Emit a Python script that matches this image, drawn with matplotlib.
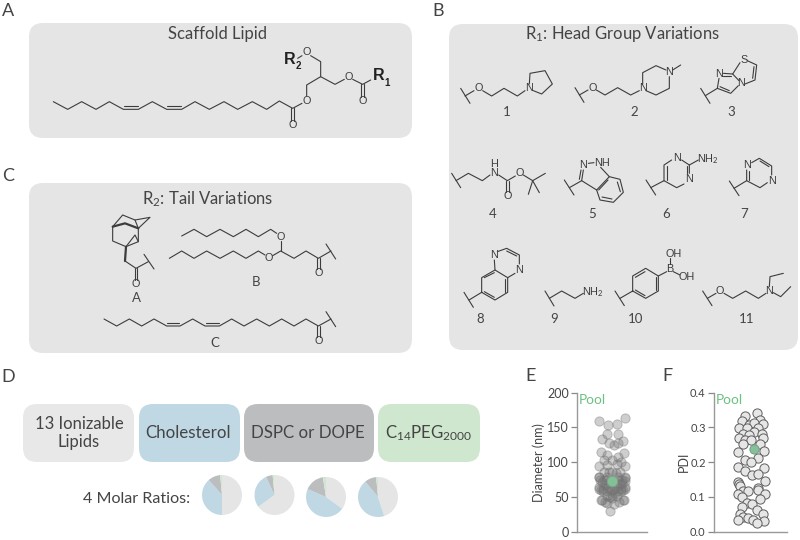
'''Lipid scaffold figure: structures, formulation boxes, molar ratio pies, DLS swarms.'''
import matplotlib
matplotlib.use('Agg')
import matplotlib.pyplot as plt
from matplotlib.patches import FancyBboxPatch

plt.rcParams['font.family'] = ['Lato', 'DejaVu Sans']
plt.rcParams['mathtext.fontset'] = 'custom'
plt.rcParams['mathtext.rm'] = 'Lato'
plt.rcParams['mathtext.default'] = 'rm'

W, H = 800, 540
TXT = '#444444'
BOND = '#3c3c3c'
PANEL = '#e5e5e5'
GREEN = '#6cc080'

# molar ratio pies: ionizable, cholesterol, helper, PEG
pie_ionizable = [50, 65, 35, 45]
pie_cholesterol = [38.5, 28, 46.5, 44]
pie_helper = [10, 5.5, 16, 9.5]
pie_peg = [1.5, 1.5, 2.5, 1.5]
pie_colors = [PANEL, '#bfd8e4', '#bcbdbf', '#cfe6cf']

# panel E
diameter_x = [13, -13, -4, 5, -5, 6, -10, 11, -3, 2, 6, -11, 12, -5, 6, -8, 0, 9, -13, 13, -5, 5, 0, -8, 8, 4, -3,
              -13, 13, -8, 10, -12, 13, -5, 6, -13, 13, -9, 9, -5, 6, 0, -2, 3, -11, 12, -7, 7, -10, 11, 2, -5, -2,
              -7, 8, -3, 4, -2, 2,
              -13, 13, -10, 10, -13, 13, -9, 9, -5, 5, 0, -6, 6, 0, -4, 4, -11, 11]
diameter_y = [164, 159, 153, 155, 141, 141, 134, 130, 128, 125, 127, 114, 113, 110, 108, 103, 103, 101, 94, 94, 96,
              97, 86, 86, 86, 84, 86, 79, 79, 74, 75, 75, 73, 79, 79, 62, 62, 61, 61, 58, 58, 53, 50, 55, 46, 46, 43,
              43, 45, 45, 40, 41, 30, 67, 69, 72, 70, 62, 62,
              78, 77, 72, 70, 64, 64, 59, 59, 52, 52, 48, 75, 75, 60, 65, 65, 60, 60]
diameter_pool = 73

# panel F
pdi_x = [7, -5, 10, -8, -1, 4, 13, -11, -3, 8, 4, -7, -1, 12, -11, 13, -5, 1, -7, 10, 14, -12, 8, -5, 1, -12, 14,
         -5, 2, 8, 15, -12, -11, -10, 8, -7, -2, 8, -12, 15, -8, 10, -3, 2, -8, 7, -10, 13, -7, -2, 3, -12, 14, 7]
pdi_y = [.343, .334, .321, .318, .307, .312, .309, .297, .297, .297, .288, .281, .278, .281, .269, .269, .264, .264,
         .251, .252, .233, .228, .213, .207, .201, .187, .182, .175, .163, .165, .147, .144, .137, .131, .125, .118,
         .118, .120, .108, .108, .099, .093, .082, .079, .072, .062, .051, .051, .043, .038, .034, .034, .032, .024]
pdi_pool_x = 4
pdi_pool = .239

# structures, traced as polylines (x, y in a 3x crop, with the crop origin)
ORIGIN_A = (0, 0)
SCAFFOLD = [
    [(160, 305), (203, 328), (245, 305), (288, 328), (328, 305), (370, 328), (415, 328), (457, 305), (500, 328),
     (545, 328), (585, 305), (628, 328), (672, 305), (713, 328), (757, 305), (800, 328), (838, 303), (878, 325),
     (906, 310)],
    [(372, 319), (413, 319)], [(502, 319), (543, 319)],
    [(874, 325), (874, 362)], [(882, 325), (882, 362)],
    [(920, 288), (920, 255), (962, 230), (962, 185), (932, 167)], [(906, 167), (893, 175)],
    [(962, 230), (1005, 253), (1033, 238)], [(1058, 238), (1088, 253), (1112, 240)],
    [(1084, 253), (1084, 290)], [(1092, 253), (1092, 290)],
]
SCAFFOLD_ATOMS = [(878, 375, 'O'), (920, 302, 'O'), (920, 157, 'O'), (1045, 230, 'O'), (1088, 303, 'O')]

ORIGIN_C = (0, 165)
TAILS = [
    # adamantane
    [(338, 185), (338, 228), (378, 245), (415, 230), (415, 190)],
    [(338, 185), (368, 150), (405, 165), (415, 190)], [(405, 165), (450, 157), (415, 190)],
    [(378, 245), (405, 210), (415, 230)],
    [(375, 288), (408, 310), (445, 290)], [(432, 268), (462, 312)],
    [(404, 310), (404, 345)], [(412, 310), (412, 345)],
    # B
    [(545, 213), (582, 193), (620, 215), (660, 193), (700, 215), (738, 193), (775, 215), (812, 193), (830, 205)],
    [(842, 228), (842, 258)],
    [(508, 280), (545, 258), (582, 280), (620, 258), (660, 280), (700, 258), (738, 280), (775, 258), (795, 270)],
    [(818, 272), (842, 258), (882, 280), (918, 258), (955, 280), (993, 258)],
    [(951, 280), (951, 312)], [(959, 280), (959, 312)], [(978, 237), (1007, 282)],
    # C
    [(312, 462), (350, 483), (388, 462), (425, 483), (462, 462), (500, 483), (540, 483), (578, 462), (615, 483),
     (658, 483), (695, 462), (732, 483), (770, 462), (808, 483), (845, 462), (882, 483), (918, 462), (955, 483),
     (993, 462)],
    [(502, 475), (538, 475)], [(617, 475), (656, 475)],
    [(951, 483), (951, 515)], [(959, 483), (959, 515)], [(978, 440), (1007, 485)],
]
TAILS_BOLD = [[(338, 185), (375, 175), (415, 190)], [(378, 245), (375, 288)]]
TAILS_ATOMS = [(408, 358, 'O'), (842, 215, 'O'), (806, 280, 'O'), (955, 323, 'O'), (955, 527, 'O')]

ORIGIN_B1 = (440, 20)
HEADS_1 = [
    [(62, 205), (90, 250)], [(75, 228), (102, 212)],
    [(128, 212), (155, 228), (192, 205), (232, 228), (255, 212)],
    [(268, 192), (270, 160), (315, 152), (337, 192), (305, 222), (280, 212)],
    [(405, 203), (432, 247)], [(418, 225), (444, 210)],
    [(469, 210), (495, 225), (533, 203), (572, 225), (598, 212)],
    [(608, 193), (608, 158), (648, 137), (678, 150)], [(688, 170), (688, 205), (648, 225), (618, 212)],
    [(698, 150), (722, 135)],
    [(782, 205), (810, 250)], [(796, 227), (832, 205), (837, 175)], [(832, 205), (872, 220), (895, 197)],
    [(840, 200), (868, 212)],
    [(850, 160), (878, 162), (900, 128)], [(850, 168), (872, 168)], [(878, 162), (897, 182)],
    [(922, 122), (950, 135), (945, 180), (915, 192)], [(942, 140), (938, 175)],
]
HEADS_1_ATOMS = [(115, 205, 'O'), (267, 205, 'N'), (457, 203, 'O'), (608, 205, 'N'), (688, 157, 'N'),
                 (838, 162, 'N'), (912, 120, 'S'), (902, 190, 'N')]
ORIGIN_B2 = (440, 140)
HEADS_2 = [
    [(35, 100), (62, 143)], [(48, 122), (85, 100), (127, 122), (150, 105)],
    [(176, 105), (202, 122), (226, 108)], [(198, 122), (198, 155)], [(206, 122), (206, 155)],
    [(250, 105), (278, 122), (316, 100)], [(278, 122), (265, 163)], [(278, 122), (298, 158)],
    [(373, 120), (402, 165)], [(388, 143), (425, 122), (430, 90)], [(418, 118), (423, 90)],
    [(445, 70), (462, 68)], [(482, 82), (508, 110), (470, 150), (425, 122)],
    [(508, 110), (540, 118), (550, 157), (520, 187), (480, 180), (470, 150)],
    [(532, 126), (541, 155)], [(516, 177), (486, 171)], [(476, 150), (504, 120)],
    [(618, 120), (647, 165)], [(632, 143), (672, 122), (672, 75), (695, 60)], [(680, 120), (680, 78)],
    [(725, 60), (748, 75), (748, 100)], [(740, 78), (740, 100)], [(732, 132), (710, 143), (672, 122)],
    [(748, 75), (775, 60)],
    [(868, 123), (897, 167)], [(882, 145), (920, 122), (920, 90)], [(928, 120), (928, 92)],
    [(935, 68), (958, 55), (995, 78), (995, 105)], [(960, 63), (987, 80)], [(982, 128), (960, 143), (920, 122)],
]
HEADS_2_ATOMS = [(163, 85, 'H\nN'), (202, 168, 'O'), (238, 98, 'O'), (430, 75, 'N'), (485, 68, 'NH'),
                 (710, 53, 'N'), (748, 118, 'N'), (803, 56, 'NH$_2$'), (922, 75, 'N'), (995, 122, 'N')]
ORIGIN_B3 = (440, 240)
HEADS_3 = [
    [(72, 157), (100, 202)], [(87, 180), (125, 157), (125, 113), (165, 90), (203, 113), (203, 157), (165, 180),
                              (125, 157)],
    [(165, 90), (163, 60)], [(172, 35), (200, 25), (238, 45), (238, 72)], [(200, 33), (230, 48)],
    [(225, 100), (203, 113)], [(133, 113), (163, 98)], [(196, 155), (196, 117)], [(133, 155), (163, 172)],
    [(315, 153), (342, 198)], [(328, 175), (365, 153), (405, 175), (430, 160)],
    [(525, 153), (553, 197)], [(540, 175), (578, 153), (578, 108), (617, 85), (655, 108), (655, 153), (617, 175),
                               (578, 153)],
    [(586, 112), (615, 95)], [(647, 112), (647, 150)], [(586, 150), (615, 167)],
    [(655, 108), (680, 95)], [(690, 72), (690, 55)], [(700, 95), (720, 105)],
    [(788, 153), (816, 197)], [(802, 175), (828, 160)],
    [(852, 160), (878, 175), (917, 153), (955, 175), (978, 160)],
    [(988, 140), (990, 110), (1030, 100)], [(1000, 158), (1022, 170), (1052, 140)],
]
HEADS_3_ATOMS = [(163, 45, 'N'), (238, 90, 'N'), (458, 155, 'NH$_2$'), (690, 87, 'B'), (702, 42, 'OH'),
                 (740, 110, 'OH'), (840, 153, 'O'), (988, 153, 'N')]

fig = plt.figure(figsize=(W / 100, H / 100), dpi=100)
ax = fig.add_axes([0, 0, 1, 1])
ax.set_xlim(0, W)
ax.set_ylim(H, 0)
ax.axis('off')


def box(x0, y0, x1, y1, color):
    ax.add_patch(FancyBboxPatch((x0, y0), x1 - x0, y1 - y0, boxstyle='round,pad=0,rounding_size=14',
                                fc=color, ec='none', zorder=1))


def mol(origin, lines, atoms=(), bold=()):
    for line in lines:
        ax.plot([origin[0] + p[0] / 3 for p in line], [origin[1] + p[1] / 3 for p in line],
                color=BOND, lw=0.8, solid_capstyle='round', zorder=2)
    for line in bold:
        ax.plot([origin[0] + p[0] / 3 for p in line], [origin[1] + p[1] / 3 for p in line],
                color=BOND, lw=1.6, solid_capstyle='round', zorder=2)
    for x, y, s in atoms:
        ax.text(origin[0] + x / 3, origin[1] + y / 3, s, family='Liberation Sans', fontsize=7.8, color=BOND,
                ha='center', va='center', zorder=3, linespacing=0.95, math_fontfamily='custom')


def label(x, y, s, size=9.5, color=TXT, **kw):
    ax.text(x, y, s, fontsize=size, color=color, ha='center', va='center', zorder=3, **kw)


# panels
box(29, 23, 412, 138, PANEL)
box(29, 183, 412, 353, PANEL)
box(449, 24, 798, 350, PANEL)
box(23, 404, 134, 462, '#e8e8e8')
box(139, 404, 240, 462, pie_colors[1])
box(244, 404, 374, 462, pie_colors[2])
box(378, 404, 480, 462, pie_colors[3])

for x, y, s in [(8, 11, 'A'), (438, 11, 'B'), (8, 176, 'C'), (8, 377, 'D'), (531, 376, 'E'), (667, 376, 'F')]:
    label(x, y, s, size=13)

label(218, 34, 'Scaffold Lipid', size=12)
label(208, 199, r'R$_2$: Tail Variations', size=12)
label(622, 34, r'R$_1$: Head Group Variations', size=12)

mol(ORIGIN_A, SCAFFOLD, SCAFFOLD_ATOMS)
for x, y, s, size in [(290, 60, 'R', 11.5), (298.5, 66, '2', 7), (379, 76, 'R', 11.5), (387.5, 83, '1', 7)]:
    ax.text(x, y, s, family='Liberation Sans', weight='bold', fontsize=size, color='#222222',
            ha='center', va='center', zorder=3)
mol(ORIGIN_C, TAILS, TAILS_ATOMS, TAILS_BOLD)
mol(ORIGIN_B1, HEADS_1, HEADS_1_ATOMS)
mol(ORIGIN_B2, HEADS_2, HEADS_2_ATOMS)
mol(ORIGIN_B3, HEADS_3, HEADS_3_ATOMS)

for x, y, s in [(136, 298, 'A'), (256, 282, 'B'), (215, 343, 'C')]:
    label(x, y, s, size=9.5)
for x, y, s in [(507, 112, '1'), (634, 112, '2'), (731, 112, '3'), (493, 214, '4'), (592, 214, '5'), (666, 214, '6'),
                (744, 214, '7'), (480, 319, '8'), (554, 319, '9'), (636, 319, '10'), (747, 319, '11')]:
    label(x, y, s, size=9.5)

# formulation boxes
label(79, 433, '13 Ionizable\nLipids', size=12, linespacing=1.2)
label(188, 433, 'Cholesterol', size=12.2)
label(308, 433, 'DSPC or DOPE', size=12.2)
label(429, 433, r'C$_{14}$PEG$_{2000}$', size=12.2)
label(137, 499, '4 Molar Ratios:', size=11.6)

# pies
pie_cx = [222, 274.5, 326, 378]
pie_cy = [495, 495, 497, 497]
for i in range(4):
    pax = fig.add_axes([(pie_cx[i] - 20) / W, 1 - (pie_cy[i] + 20) / H, 40 / W, 40 / H])
    pax.pie([pie_ionizable[i], pie_cholesterol[i], pie_helper[i], pie_peg[i]], colors=pie_colors, startangle=90,
            counterclock=False, radius=1)
    pax.set_xlim(-1, 1)
    pax.set_ylim(-1, 1)


def swarm_axes(left, right, center, ymax, ticks, ticklabels, ylabel, labelpad, ticksize):
    a = fig.add_axes([left / W, 1 - 531.7 / H, (right - left) / W, 139 / H])
    a.patch.set_alpha(0)
    a.set_xlim(left - center, right - center)
    a.set_ylim(0, ymax)
    a.set_xticks([])
    a.set_yticks(ticks)
    a.set_yticklabels(ticklabels, fontsize=ticksize, color=TXT)
    a.tick_params(axis='y', length=4, width=0.9, color='#888888', pad=2)
    a.spines['top'].set_visible(False)
    a.spines['right'].set_visible(False)
    for side in ['left', 'bottom']:
        a.spines[side].set_color('#999999')
        a.spines[side].set_linewidth(1.0)
    a.set_ylabel(ylabel, fontsize=9, color=TXT, labelpad=labelpad)
    a.text(0.03, 0.95, 'Pool', transform=a.transAxes, color=GREEN, fontsize=9.8, ha='left', va='center')
    return a


# E
ae = swarm_axes(577, 647, 612, 200, [0, 50, 100, 150, 200], ['0', '50', '100', '150', '200'], 'Diameter (nm)', 1.5, 9)
ae.scatter(diameter_x, diameter_y, s=44, facecolor=(0.45, 0.45, 0.45, 0.35), edgecolor=(0.45, 0.45, 0.45, 0.4),
           linewidth=0.7, clip_on=False)
ae.scatter([0], [diameter_pool], s=56, facecolor='#83c096', edgecolor='#77a888', linewidth=0.6, zorder=5)

# F
af = swarm_axes(714, 787, 750, 0.4, [0, 0.1, 0.2, 0.3, 0.4], ['0.0', '0.1', '0.2', '0.3', '0.4'], 'PDI', 0, 8)
af.scatter(pdi_x, pdi_y, s=44, facecolor='#e6e6e6', edgecolor='#5f5f5f', linewidth=0.7, clip_on=False)
af.scatter([pdi_pool_x], [pdi_pool], s=44, facecolor='#85c09a', edgecolor='#6f9f80', linewidth=0.7, zorder=5)

plt.savefig('out.png', dpi=100)
